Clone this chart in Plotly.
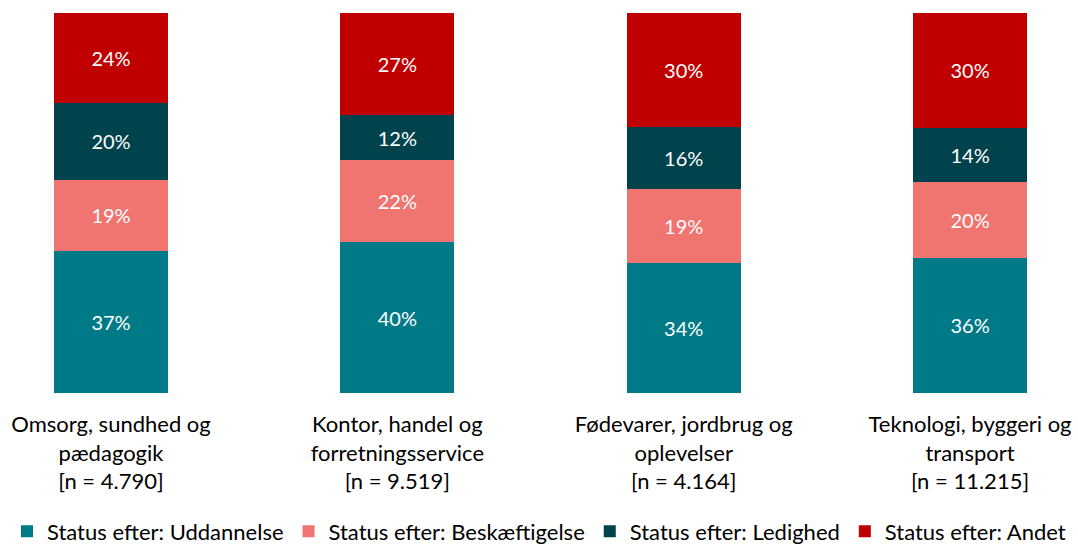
import plotly.graph_objects as go

categories = [
    "Omsorg, sundhed og<br>pædagogik<br>[n = 4.790]",
    "Kontor, handel og<br>forretningsservice<br>[n = 9.519]",
    "Fødevarer, jordbrug og<br>oplevelser<br>[n = 4.164]",
    "Teknologi, byggeri og<br>transport<br>[n = 11.215]",
]
series_names = [
    "Status efter: Uddannelse",
    "Status efter: Beskæftigelse",
    "Status efter: Ledighed",
    "Status efter: Andet",
]
uddannelse = [37.4, 39.7, 34.2, 35.6]
beskaeftigelse = [18.7, 21.6, 19.4, 20.0]
ledighed = [20.3, 11.8, 16.3, 14.2]
andet = [23.6, 26.9, 30.1, 30.2]
series_values = [uddannelse, beskaeftigelse, ledighed, andet]
colors = ["#007A87", "#F07470", "#00434C", "#C00000"]

FONT = "Lato"
x_pos = list(range(len(categories)))

fig = go.Figure()
for name, vals, col in zip(series_names, series_values, colors):
    fig.add_trace(go.Bar(
        x=x_pos, y=vals, name=name,
        marker=dict(color=col, line=dict(width=0)),
        width=0.398,
        text=[f"{round(v)}%" for v in vals],
        textposition="inside",
        insidetextanchor="middle",
        textangle=0,
        textfont=dict(color="white", size=20, family=FONT),
    ))

fig.update_layout(
    barmode="stack",
    width=1078, height=560,
    margin=dict(l=0, r=0, t=13, b=0),
    paper_bgcolor="white", plot_bgcolor="white",
    font=dict(family=FONT, size=20, color="black"),
    xaxis=dict(
        range=[-0.3877, 3.377],
        tickmode="array", tickvals=x_pos, ticktext=categories,
        showgrid=False, zeroline=False, showline=False, ticks="",
        tickfont=dict(size=22, family=FONT, color="black"),
        ticklabelstandoff=16,
        automargin=False,
        fixedrange=True,
        anchor="y",
    ),
    yaxis=dict(range=[0, 100], visible=False, fixedrange=True,
               domain=[0.3053, 1.0], automargin=False),
    legend=dict(
        orientation="h", x=0.5, xanchor="center",
        y=0.052, yanchor="middle",
        font=dict(size=22, family=FONT, color="black"),
        traceorder="normal",
    ),
    showlegend=True,
)

fig.write_html(
    "out.html",
    config={"displayModeBar": False},
    post_script="document.body.style.margin='0';document.body.style.overflow='hidden';",
)
